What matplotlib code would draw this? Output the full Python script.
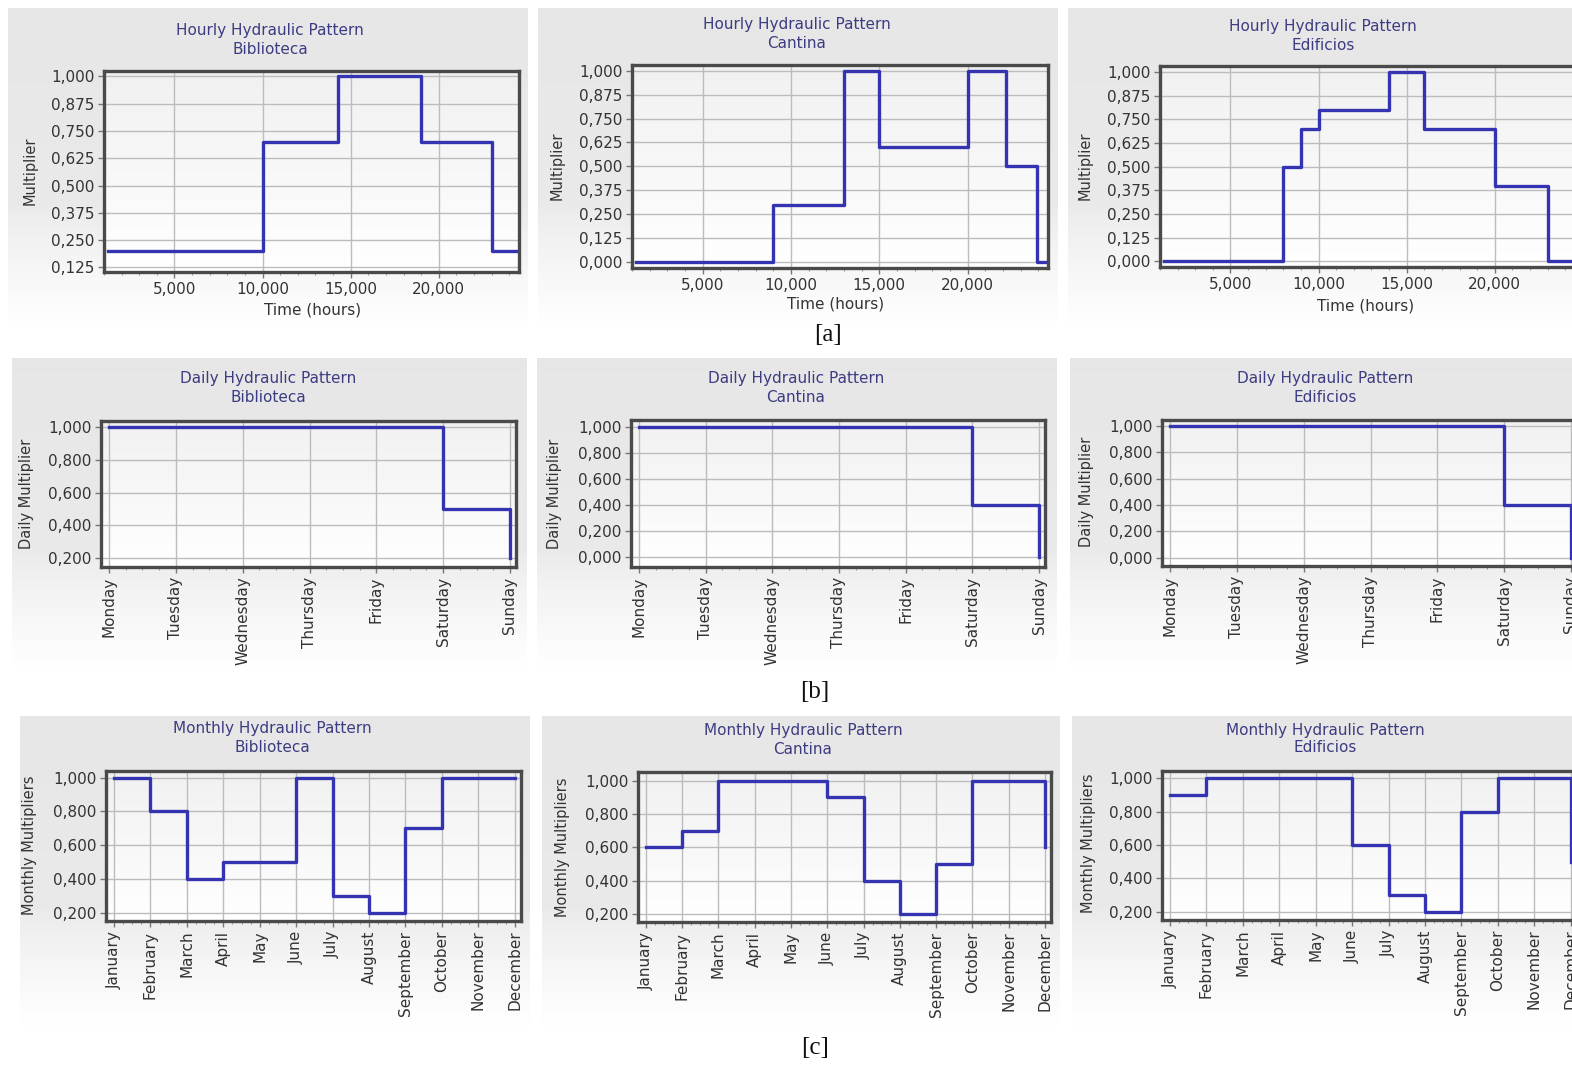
import numpy as np
import matplotlib
matplotlib.use('Agg')
import matplotlib.pyplot as plt
from matplotlib.ticker import FixedLocator, FuncFormatter, MultipleLocator

# ---------------- data ----------------
sites = ['Biblioteca', 'Cantina', 'Edificios']

# hourly patterns: change times (hours) and multiplier from that time on
bib_hour_t = [1.2, 10, 14.3, 19, 23, 24.4]
bib_hour_v = [0.2, 0.7, 1.0, 0.7, 0.2, 0.2]
can_hour_t = [1.2, 9, 13, 15, 20, 22.2, 23.9, 24.4]
can_hour_v = [0.0, 0.3, 1.0, 0.6, 1.0, 0.5, 0.0, 0.0]
edi_hour_t = [1.2, 8, 9, 10, 14, 16, 20, 23, 24.4]
edi_hour_v = [0.0, 0.5, 0.7, 0.8, 1.0, 0.7, 0.4, 0.0, 0.0]
hour_ticks = [5, 10, 15, 20]

days = ['Monday', 'Tuesday', 'Wednesday', 'Thursday', 'Friday', 'Saturday', 'Sunday']
bib_day = [1.0, 1.0, 1.0, 1.0, 1.0, 0.5, 0.2]
can_day = [1.0, 1.0, 1.0, 1.0, 1.0, 0.4, 0.0]
edi_day = [1.0, 1.0, 1.0, 1.0, 1.0, 0.4, 0.0]

months = ['January', 'February', 'March', 'April', 'May', 'June', 'July',
          'August', 'September', 'October', 'November', 'December']
bib_month = [1.0, 0.8, 0.4, 0.5, 0.5, 1.0, 0.3, 0.2, 0.7, 1.0, 1.0, 1.0]
can_month = [0.6, 0.7, 1.0, 1.0, 1.0, 0.9, 0.4, 0.2, 0.5, 1.0, 1.0, 0.6]
edi_month = [0.9, 1.0, 1.0, 1.0, 1.0, 0.6, 0.3, 0.2, 0.8, 1.0, 1.0, 0.5]

# ---------------- style ----------------
W, H = 1572, 1067
fig = plt.figure(figsize=(W / 100, H / 100), dpi=100)
fig.patch.set_facecolor('white')
plt.rcParams['font.family'] = ['DejaVu Sans']

LINE = '#3434b2'
TITLE_C = '#3c3c82'
TXT = '#333333'
GRID = '#bcbcbc'
SPINE = '#4a4a4a'
FS = 11


def rect(x0, y0, x1, y1):
    return [x0 / W, 1 - y1 / H, (x1 - x0) / W, (y1 - y0) / H]


def fx(x):
    return x / W


def fy(y):
    return 1 - y / H


def panel_bg(x0, y0, x1, y1):
    a = fig.add_axes(rect(x0, y0, x1, y1), zorder=0)
    n = 200
    t = np.linspace(0, 1, n)
    g = np.where(t < 0.62, 0.905 + 0.02 * t, 0.917 + (1 - 0.917) * ((t - 0.62) / 0.38) ** 0.8)
    img = np.repeat(g[:, None], 2, axis=1)
    img = np.dstack([img, img, img])
    a.imshow(img, aspect='auto', extent=[0, 1, 0, 1], interpolation='bilinear')
    a.set_axis_off()
    return a


def fmt3(v, _=None):
    return f"{v:.3f}".replace('.', ',')


def make_axes(box, xlim, ylim, yticks):
    ax = fig.add_axes(rect(*box), zorder=2)
    n = 100
    t = np.linspace(0, 1, n)
    g = 0.945 + 0.055 * t  # top slightly grey, bottom white
    img = np.dstack([np.repeat(g[:, None], 2, axis=1)] * 3)
    ax.imshow(img, aspect='auto', extent=[0, 1, 0, 1], transform=ax.transAxes,
              zorder=0, interpolation='bilinear')
    ax.set_xlim(*xlim)
    ax.set_ylim(*ylim)
    ax.set_axisbelow(True)
    ax.yaxis.set_major_locator(FixedLocator(yticks))
    ax.yaxis.set_major_formatter(FuncFormatter(fmt3))
    ax.grid(True, which='major', color=GRID, lw=1.0)
    for s in ax.spines.values():
        s.set_color(SPINE)
        s.set_linewidth(2.4)
    ax.tick_params(axis='both', which='major', length=4, width=1, color='#777777',
                   labelsize=FS, labelcolor=TXT, pad=3)
    ax.tick_params(axis='both', which='minor', length=2.5, width=0.8, color='#999999')
    return ax


def title(x, y, line1, line2):
    fig.text(fx(x), fy(y), line1 + '\n' + line2, ha='center', va='center',
             fontsize=FS, color=TITLE_C, linespacing=1.25)


def ylab(x, y, s):
    fig.text(fx(x), fy(y), s, ha='center', va='center', rotation=90,
             fontsize=FS - 0.5, color=TXT)


# ---------------- row 1: hourly ----------------
hour_data = [(bib_hour_t, bib_hour_v), (can_hour_t, can_hour_v), (edi_hour_t, edi_hour_v)]
bg1 = [(8, 8, 528, 327), (538, 8, 1058, 327), (1068, 8, 1600, 327)]
box1 = [(104, 71, 519, 272), (632, 65, 1048, 268), (1160, 66, 1575, 267)]
ylim1 = [(0.104, 1.025), (-0.032, 1.03), (-0.03, 1.032)]
yt1 = [np.arange(1, 9) * 0.125, np.arange(0, 9) * 0.125, np.arange(0, 9) * 0.125]
tpos1 = [(270, 40), (797, 34), (1323, 36)]
ylpos1 = [(30, 171), (557, 166), (1085, 166)]
xlpos1 = [(313, 310), (836, 304), (1366, 306)]

for i in range(3):
    panel_bg(*bg1[i])
    ax = make_axes(box1[i], (1.0, 24.55), ylim1[i], yt1[i])
    ax.xaxis.set_major_locator(FixedLocator(hour_ticks))
    ax.xaxis.set_major_formatter(FuncFormatter(fmt3))
    ax.xaxis.set_minor_locator(MultipleLocator(1))
    t, v = hour_data[i]
    ax.plot(t, v, drawstyle='steps-post', color=LINE, lw=2.4, zorder=3)
    title(*tpos1[i], 'Hourly Hydraulic Pattern', sites[i])
    ylab(*ylpos1[i], 'Multiplier')
    fig.text(fx(xlpos1[i][0]), fy(xlpos1[i][1]), 'Time (hours)', ha='center',
             va='center', fontsize=FS, color=TXT)

# ---------------- row 2: daily ----------------
day_data = [bib_day, can_day, edi_day]
bg2 = [(12, 358, 527, 668), (537, 358, 1057, 668), (1070, 358, 1600, 668)]
box2 = [(101, 421, 516, 567), (631, 420, 1045, 567), (1162, 420, 1577, 566)]
ylim2 = [(0.145, 1.037), (-0.075, 1.05), (-0.064, 1.046)]
yt2 = [np.arange(1, 6) * 0.2, np.arange(0, 6) * 0.2, np.arange(0, 6) * 0.2]
tpos2 = [(268, 388), (796, 388), (1325, 388)]
ylpos2 = [(27, 494), (555, 494), (1087, 492)]

for i in range(3):
    panel_bg(*bg2[i])
    ax = make_axes(box2[i], (-0.12, 6.09), ylim2[i], yt2[i])
    x = np.arange(len(days))
    ax.xaxis.set_major_locator(FixedLocator(x))
    ax.set_xticklabels(days, rotation=90)
    ax.xaxis.set_minor_locator(MultipleLocator(0.25))
    ax.plot(x, day_data[i], drawstyle='steps-post', color=LINE, lw=2.4, zorder=3)
    title(*tpos2[i], 'Daily Hydraulic Pattern', sites[i])
    ylab(*ylpos2[i], 'Daily Multiplier')

# ---------------- row 3: monthly ----------------
month_data = [bib_month, can_month, edi_month]
bg3 = [(20, 716, 530, 1027), (542, 716, 1060, 1027), (1072, 716, 1600, 1027)]
box3 = [(106, 771, 521, 921), (638, 772, 1051, 922), (1162, 771, 1577, 920)]
ylim3 = [(0.151, 1.04), (0.152, 1.051), (0.15, 1.044)]
yt3 = [np.arange(1, 6) * 0.2] * 3
tpos3 = [(272, 738), (803, 740), (1325, 739)]
ylpos3 = [(30, 845), (562, 847), (1088, 843)]

for i in range(3):
    panel_bg(*bg3[i])
    ax = make_axes(box3[i], (-0.22, 11.17), ylim3[i], yt3[i])
    x = np.arange(len(months))
    ax.xaxis.set_major_locator(FixedLocator(x))
    ax.set_xticklabels(months, rotation=90)
    ax.xaxis.set_minor_locator(MultipleLocator(0.25))
    ax.plot(x, month_data[i], drawstyle='steps-post', color=LINE, lw=2.4, zorder=3)
    title(*tpos3[i], 'Monthly Hydraulic Pattern', sites[i])
    ylab(*ylpos3[i], 'Monthly Multipliers')

# ---------------- section labels ----------------
for s, (x, y) in zip(['[a]', '[b]', '[c]'], [(828, 335), (815, 692), (815, 1048)]):
    fig.text(fx(x), fy(y), s, ha='center', va='center', fontsize=18,
             family=['Liberation Serif', 'DejaVu Serif'], color='#111111')

fig.savefig('out.png', dpi=100, facecolor='white')
